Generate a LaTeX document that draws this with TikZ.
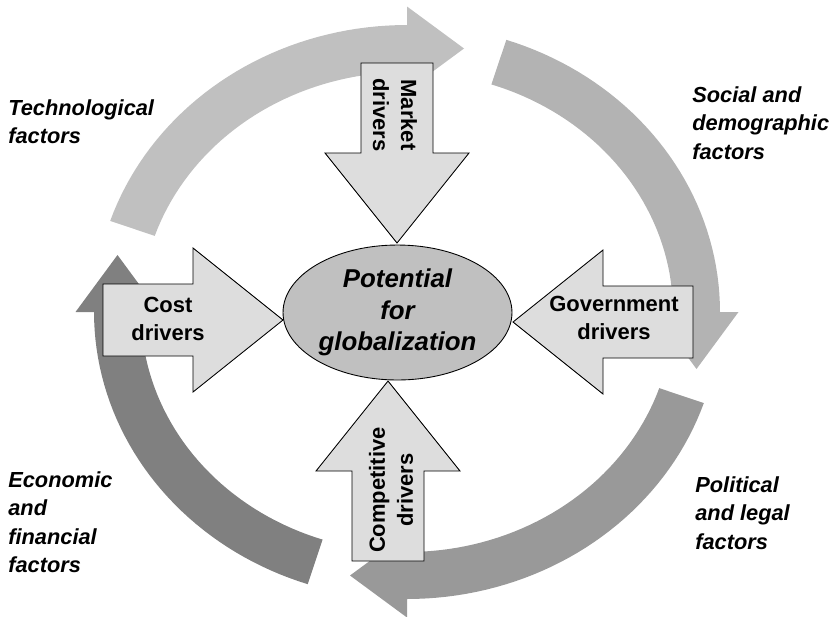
\documentclass[tikz,border=0pt]{standalone}
\usepackage{fontspec}
\setmainfont{Liberation Sans}
\usetikzlibrary{shapes.geometric}

\definecolor{ringA}{HTML}{C0C0C0}
\definecolor{ringB}{HTML}{B3B3B3}
\definecolor{ringC}{HTML}{999999}
\definecolor{ringD}{HTML}{808080}
\definecolor{drvgray}{HTML}{DDDDDD}
\definecolor{ellgray}{HTML}{C0C0C0}

% one quarter of the ring, ending in its head at angle #1
\newcommand{\ringarc}[2]{%
  \fill[#2] plot[domain=#1-71.5:#1, samples=40] ({407+313*cos(\x)},{312+287*sin(\x)})
    -- ({407+331.5*cos(#1)},{312+305.5*sin(#1)})
    -- ({407+289.5*cos(#1)-57*sin(#1)},{312+263.5*sin(#1)+57*cos(#1)})
    -- ({407+247.5*cos(#1)},{312+221.5*sin(#1)})
    -- plot[domain=#1:#1-71.5, samples=40] ({407+266*cos(\x)},{312+240*sin(\x)}) -- cycle;}

% block arrow with its tip at #1, turned by #2
\newcommand{\drvarrow}[2]{%
  \draw[drv, shift={(#1)}, rotate=#2] (0,0) -- (-90,72) -- (-90,36) -- (-180,36)
    -- (-180,-36) -- (-90,-36) -- (-90,-72) -- cycle;}

\begin{document}
\begin{tikzpicture}[x=0.02cm, y=-0.02cm,
    factor/.style={anchor=north west, inner sep=0pt, align=left,
      font=\fontsize{12.4}{16.2}\selectfont\bfseries\itshape},
    drvtext/.style={inner sep=0pt, align=center,
      font=\fontsize{12.5}{16}\selectfont\bfseries},
    drv/.style={draw=black, fill=drvgray, line width=0.5pt}]
  \useasboundingbox (0,0) rectangle (834,616);

  \ringarc{270}{ringA}
  \ringarc{360}{ringB}
  \ringarc{90}{ringC}
  \ringarc{180}{ringD}

  \coordinate (markettip) at (397,243);
  \coordinate (costtip) at (283,320);
  \coordinate (govtip) at (513,322);
  \coordinate (comptip) at (388,381);
  \drvarrow{markettip}{-90}
  \drvarrow{costtip}{0}
  \drvarrow{govtip}{180}
  \drvarrow{comptip}{90}

  \node[draw=black, line width=0.5pt, ellipse, fill=ellgray, minimum width=4.58cm,
    minimum height=2.7cm, inner sep=0pt, align=center,
    font=\fontsize{14.7}{18}\selectfont\bfseries\itshape] (pot) at (397.5,312.5)
    {Potential\\for\\globalization};

  \node[drvtext, rotate=-90] (market) at (395,115) {Market\\drivers};
  \node[drvtext] (cost) at (168,319) {Cost\\drivers};
  \node[drvtext] (gov) at (614,318) {Government\\drivers};
  \node[drvtext, rotate=90] (comp) at (391,490) {Competitive\\drivers};

  \node[factor] (tech) at (8,99) {Technological\\factors};
  \node[factor] (social) at (692,86) {Social and\\demographic\\factors};
  \node[factor] (econ) at (8,471) {Economic\\and\\financial\\factors};
  \node[factor] (polit) at (695,476) {Political\\and legal\\factors};
\end{tikzpicture}
\end{document}
